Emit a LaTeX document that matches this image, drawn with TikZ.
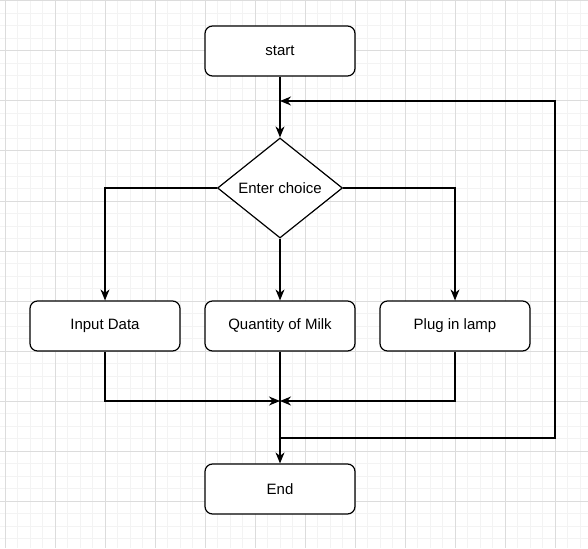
\documentclass[tikz,border=0pt]{standalone}
\usepackage{fontspec}
\setmainfont{Liberation Sans}
\usetikzlibrary{arrows.meta,shapes.geometric}
\definecolor{gridminor}{HTML}{F3F3F3}
\definecolor{gridmajor}{HTML}{DCDCDC}
\begin{document}
\begin{tikzpicture}[x=1pt,y=-1pt,
  box/.style={draw,rounded corners=7.5pt,minimum width=150pt,minimum height=50pt,line width=1.2pt,fill=white,font=\fontsize{15}{18}\selectfont},
  decision/.style={draw,diamond,minimum width=125pt,minimum height=100pt,inner sep=0pt,line width=1.2pt,fill=white,font=\fontsize{15}{18}\selectfont},
  flow/.style={draw,line width=1.2pt,-{Stealth[length=11pt,width=9pt,inset=3.5pt]}}]
\useasboundingbox (0,0) rectangle (588,548);
\fill[white] (0,0) rectangle (588,548);
% grid
\foreach \x in {5,17.5,...,588} \draw[gridminor,line width=1pt] (\x,0)--(\x,548);
\foreach \y in {1,13.5,...,548} \draw[gridminor,line width=1pt] (0,\y)--(588,\y);
\foreach \x in {5,55,...,588} \draw[gridmajor,line width=1pt] (\x,0)--(\x,548);
\foreach \y in {1,51,...,548} \draw[gridmajor,line width=1pt] (0,\y)--(588,\y);
% nodes
\node[box] (start) at (280,51) {start};
\node[decision] (choice) at (280,188) {Enter choice};
\node[box] (input) at (105,326) {Input Data};
\node[box] (milk) at (280,326) {Quantity of Milk};
\node[box] (lamp) at (455,326) {Plug in lamp};
\node[box] (stop) at (280,489) {End};
\coordinate (merge) at (280,401);
\coordinate (loopout) at (280,438);
\coordinate (loopin) at (280,101);
% connectors
\draw[flow] (start) -- (choice);
\draw[flow] (choice.west) -| (input);
\draw[flow] (choice) -- (milk);
\draw[flow] (choice.east) -| (lamp);
\draw[flow] (input) |- (merge);
\draw[flow] (lamp) |- (merge);
\draw[flow] (milk) -- (stop);
\draw[flow] (loopout) -- (555,438) -- (555,101) -- (loopin);
\end{tikzpicture}
\end{document}
